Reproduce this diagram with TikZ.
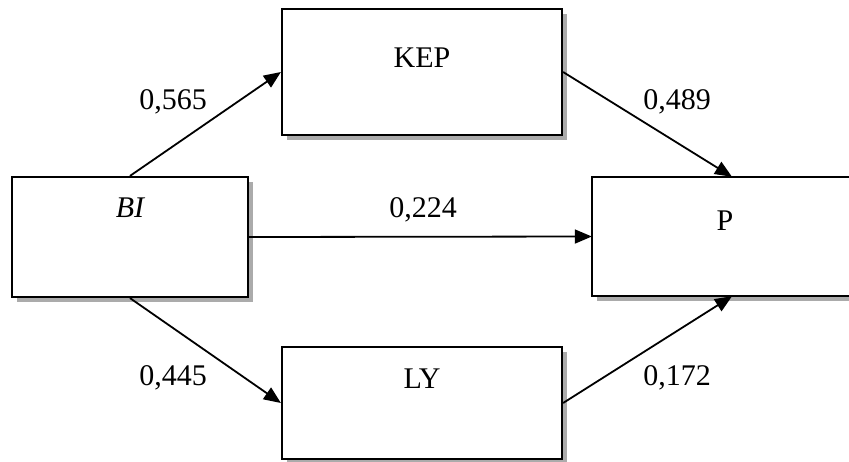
\documentclass[tikz,border=0pt]{standalone}
\usepackage{fontspec}
\setmainfont{Liberation Serif}
\usetikzlibrary{arrows.meta}
\begin{document}
\begin{tikzpicture}[x=1pt,y=-1pt,
  boxnode/.style={draw=black, line width=2.2pt, fill=white, inner sep=0pt},
  openbox/.style={fill=white, inner sep=0pt},
  boxline/.style={draw=black, line width=2.2pt},
  shadowbox/.style={fill=black!33},
  txt/.style={font=\fontsize{30}{36}\selectfont, anchor=base, inner sep=0pt},
  arr/.style={line width=1.8pt, -{Triangle[length=17pt,width=14pt]}}
]
\useasboundingbox (0,0) rectangle (849,461);
\clip (0,0) rectangle (849,461);
% shadows
\fill[shadowbox] (17,182) rectangle (253,302);
\fill[shadowbox] (287,14) rectangle (567,140);
\fill[shadowbox] (597,182) rectangle (877,301);
\fill[shadowbox] (287,352) rectangle (567,464);
% boxes
\node[boxnode, minimum width=236pt, minimum height=120pt] (bi) at (130,237) {};
\node[boxnode, minimum width=280pt, minimum height=126pt] (kep) at (422,72) {};
\node[openbox, minimum width=280pt, minimum height=119pt] (p) at (732,236.5) {};
\draw[boxline] (p.north east) -- (p.north west) -- (p.south west) -- (p.south east);
\node[boxnode, minimum width=280pt, minimum height=112pt] (ly) at (422,403) {};
% box texts
\node[txt] (tbi) at (130,217) {\itshape BI};
\node[txt] (tkep) at (422,67) {KEP};
\node[txt] (tp) at (725,230) {P};
\node[txt] (tly) at (422,388) {LY};
% arrows
\draw[arr] (bi.north) -- (kep.west);
\draw[arr] (bi.east) -- (p.west);
\draw[arr] (bi.south) -- (ly.west);
\draw[arr] (kep.east) -- (p.north);
\draw[arr] (ly.east) -- (p.south);
% labels
\node[txt] (l1) at (173,109) {0,565};
\node[txt] (l2) at (677,109) {0,489};
\node[txt] (l3) at (423,217) {0,224};
\node[txt] (l4) at (173,385) {0,445};
\node[txt] (l5) at (677,385) {0,172};
\end{tikzpicture}
\end{document}
